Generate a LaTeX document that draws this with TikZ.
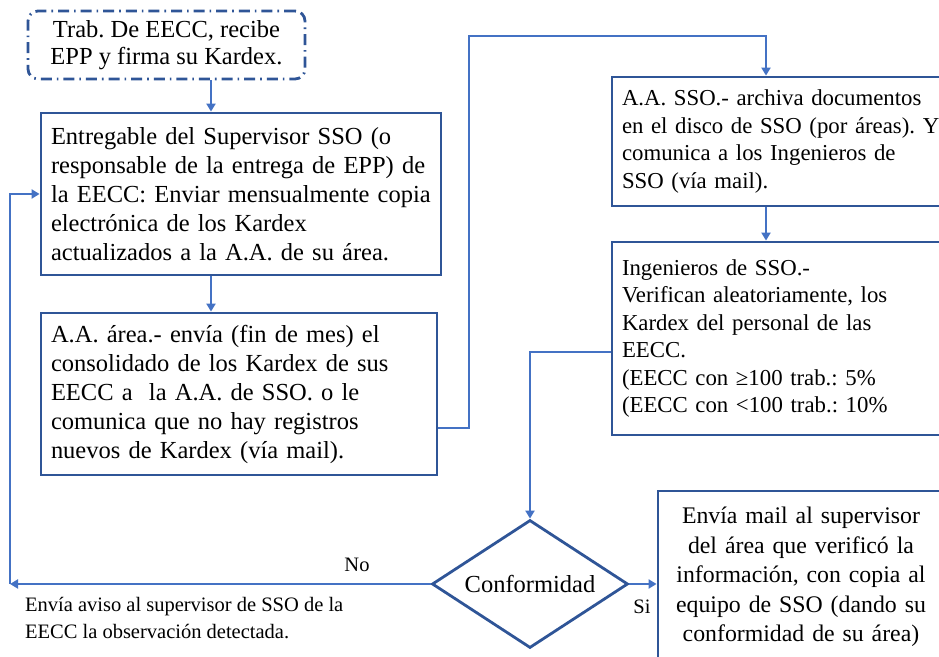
\documentclass[tikz,border=0pt]{standalone}
\usepackage{fontspec}
\setmainfont{Liberation Serif}
\usetikzlibrary{shapes.geometric,arrows.meta}
\definecolor{boxblue}{HTML}{2F5597}
\definecolor{lineblue}{HTML}{4472C4}
\frenchspacing
\tikzset{
  stepbox/.style={draw=boxblue, line width=1.4pt, inner xsep=5pt, inner ysep=0pt,
    align=left, font=\fontsize{12.25}{14.5}\selectfont},
  smallbox/.style={stepbox, font=\fontsize{11.4}{13.7}\selectfont},
  link/.style={draw=lineblue, line width=1pt, -{Triangle[length=4pt,width=4.5pt]}},
  note/.style={font=\fontsize{10.25}{13.5}\selectfont},
}
\begin{document}
\begin{tikzpicture}[x=0.5pt,y=-0.5pt]
    \clip (0,0) rectangle (939,657);
    % left column
    \node[stepbox, rounded corners=5pt, align=center,
          font=\fontsize{12.25}{13.5}\selectfont,
          dash pattern=on 5.5pt off 2.5pt on 0.8pt off 2.5pt,
          minimum width=138.5pt, minimum height=34pt] (start) at (166.5,45)
        {Trab. De EECC, recibe\\EPP y firma su Kardex.};
    \node[stepbox, text width=190pt, minimum height=81pt] (supervisor) at (241,194)
        {Entregable del Supervisor SSO (o\\
         responsable de la entrega de EPP) de\\
         la EECC: Enviar mensualmente copia\\
         electrónica de los Kardex\\
         actualizados a la A.A. de su área.};
    \node[stepbox, text width=188pt, minimum height=81pt] (area) at (239,394)
        {A.A. área.- envía (fin de mes) el\\
         consolidado de los Kardex de sus\\
         EECC a\ \ la A.A. de SSO. o le\\
         comunica que no hay registros\\
         nuevos de Kardex (vía mail).};
    % right column
    \node[smallbox, text width=170pt, minimum height=64.5pt] (archivo) at (792,141.5)
        {A.A. SSO.- archiva documentos\\
         en el disco de SSO (por áreas). Y\\
         comunica a los Ingenieros de\\
         SSO (vía mail).};
    \node[smallbox, text width=170pt, minimum height=96.5pt] (ingenieros) at (792,338.5)
        {Ingenieros de SSO.-\\
         Verifican aleatoriamente, los\\
         Kardex del personal de las\\
         EECC.\\
         (EECC con ≥100 trab.: 5\%\\
         (EECC con <100 trab.: 10\%};
    \node[stepbox, diamond, aspect=1.53, inner sep=0pt, align=center,
          minimum width=98pt, minimum height=64pt] (conformidad) at (530,584)
        {Conformidad};
    \node[stepbox, align=center, text width=133pt, minimum height=86pt,
          font=\fontsize{11.9}{14.7}\selectfont] (mail) at (801,577)
        {Envía mail al supervisor\\
         del área que verificó la\\
         información, con copia al\\
         equipo de SSO (dando su\\
         conformidad de su área)};
    \coordinate (bend) at (469,36);
    \coordinate (back) at (10,584);
    % labels
    \node[note] (no) at (357,565) {No};
    \node[note] (si) at (642,607) {Si};
    \node[note, anchor=west, align=left] (aviso) at (18,618)
        {Envía aviso al supervisor de SSO de la\\EECC la observación detectada.};
    % connectors
    \draw[link] ([xshift=22.25pt]start.south) -- ([xshift=22.25pt]start.south |- supervisor.north);
    \draw[link] ([xshift=-15pt]supervisor.south) -- ([xshift=-15pt]supervisor.south |- area.north);
    \draw[link] ([yshift=-17pt]area.east) -| (bend) -| ([xshift=-13pt]archivo.north);
    \draw[link] ([xshift=-13pt]archivo.south) -- ([xshift=-13pt]ingenieros.north);
    \draw[link] ([yshift=-6.75pt]ingenieros.west) -| (conformidad.north);
    \draw[link] (conformidad.east) -- (conformidad.east -| mail.west);
    \draw[link] (conformidad.west) -- (back);
    \draw[link] (back) |- (supervisor.west);
\end{tikzpicture}
\end{document}
